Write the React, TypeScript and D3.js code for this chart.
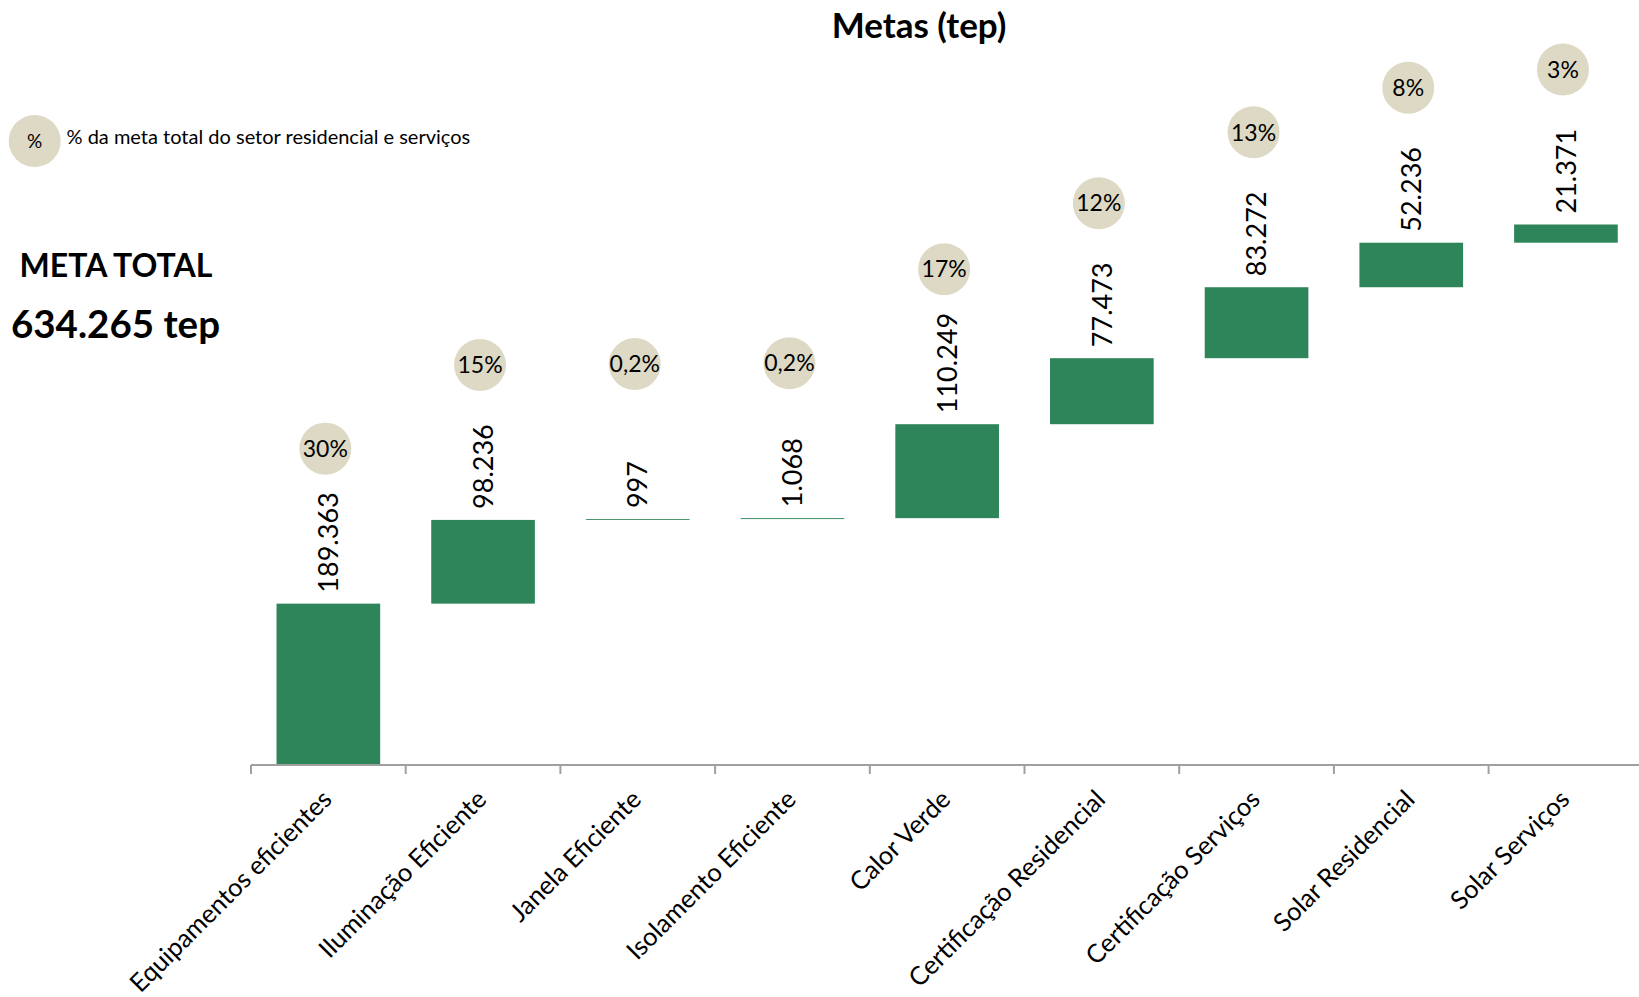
import React from 'react';
import * as d3 from 'd3';

// Metas por medida (tep), em ordem de acumulação
const categories = [
  'Equipamentos eficientes',
  'Iluminação Eficiente',
  'Janela Eficiente',
  'Isolamento Eficiente',
  'Calor Verde',
  'Certificação Residencial',
  'Certificação Serviços',
  'Solar Residencial',
  'Solar Serviços',
];
const metas = [189363, 98236, 997, 1068, 110249, 77473, 83272, 52236, 21371];

const chartTitle = 'Metas (tep)';
const legendText = '% da meta total do setor residencial e serviços';
const totalTitle = 'META TOTAL';
const unit = 'tep';

const W = 1639;
const H = 997;
const FONT = 'Lato, Carlito, Calibri, sans-serif';
const GREEN = '#2E855A';
const TAN = '#DDD9C4';
const AXIS = '#A0A0A0';

const ptBR = d3.formatLocale({
  decimal: ',',
  thousands: '.',
  grouping: [3],
  currency: ['R$', ''],
});
const fmtInt = ptBR.format(',d');
const fmtDec = ptBR.format('.1f');

export default function App() {
  const total = d3.sum(metas);
  const starts = metas.map((_, i) => d3.sum(metas.slice(0, i)));

  const axisY = 765;
  const x = d3
    .scaleBand<string>()
    .domain(categories)
    .range([251, 251 + 154.7 * categories.length])
    .paddingInner(0.33)
    .paddingOuter(0.165);
  const y = d3.scaleLinear().domain([0, total]).range([axisY, 224.5]);

  const step = x.step();
  const bw = x.bandwidth();
  const gapHalf = (step - bw) / 2;
  const tickXs = categories.map((c) => (x(c) as number) - gapHalf);

  const pct = (v: number) => {
    const p = (v / total) * 100;
    return p < 1 ? `${fmtDec(p)}%` : `${Math.round(p)}%`;
  };

  return (
    <svg
      width={W}
      height={H}
      viewBox={`0 0 ${W} ${H}`}
      style={{ position: 'absolute', left: 0, top: 0, background: '#fff' }}
      fontFamily={FONT}
    >
      <rect width={W} height={H} fill="#fff" />

      {/* título */}
      <text x={919} y={38} textAnchor="middle" fontSize={35} fontWeight={700} fill="#000">
        {chartTitle}
      </text>

      {/* legenda do círculo */}
      <circle cx={34.7} cy={141} r={26} fill={TAN} />
      <text x={34.7} y={141} dy="0.36em" textAnchor="middle" fontSize={19} fill="#000">
        %
      </text>
      <text x={66.5} y={144} fontSize={20} fill="#000">
        {legendText}
      </text>

      {/* meta total */}
      <text x={116} y={277} textAnchor="middle" fontSize={32} fontWeight={700} fill="#000">
        {totalTitle}
      </text>
      <text x={115.5} y={338} textAnchor="middle" fontSize={38.5} fontWeight={700} fill="#000">
        {`${fmtInt(total)} ${unit}`}
      </text>

      {/* barras flutuantes da cascata */}
      {categories.map((c, i) => {
        const top = y(starts[i] + metas[i]);
        const bottom = y(starts[i]);
        return (
          <rect
            key={`bar-${c}`}
            x={x(c)}
            y={top}
            width={bw}
            height={Math.max(0, bottom - top)}
            fill={GREEN}
          />
        );
      })}

      {/* eixo horizontal */}
      <line x1={251} x2={W} y1={axisY} y2={axisY} stroke={AXIS} strokeWidth={2} />
      {tickXs.map((tx, i) => (
        <line key={`tick-${i}`} x1={tx} x2={tx} y1={axisY} y2={axisY + 9} stroke={AXIS} strokeWidth={2} />
      ))}

      {/* rótulos de valor */}
      {categories.map((c, i) => {
        const cx = (x(c) as number) + bw / 2;
        const top = y(starts[i] + metas[i]);
        return (
          <text
            key={`val-${c}`}
            transform={`translate(${cx},${top - 11}) rotate(-90)`}
            dy="0.36em"
            textAnchor="start"
            fontSize={27}
            fill="#000"
          >
            {fmtInt(metas[i])}
          </text>
        );
      })}

      {/* participação percentual */}
      {categories.map((c, i) => {
        const cx = (x(c) as number) + bw / 2 - 3;
        const cy = y(starts[i] + metas[i]) - 155;
        return (
          <g key={`pct-${c}`}>
            <circle cx={cx} cy={cy} r={26} fill={TAN} />
            <text x={cx} y={cy} dy="0.36em" textAnchor="middle" fontSize={23} fill="#000">
              {pct(metas[i])}
            </text>
          </g>
        );
      })}

      {/* categorias */}
      {categories.map((c) => {
        const cx = (x(c) as number) + bw / 2;
        return (
          <text
            key={`cat-${c}`}
            transform={`translate(${cx + 5},${axisY + 36}) rotate(-45)`}
            textAnchor="end"
            fontSize={25.5}
            fill="#000"
          >
            {c}
          </text>
        );
      })}
    </svg>
  );
}
